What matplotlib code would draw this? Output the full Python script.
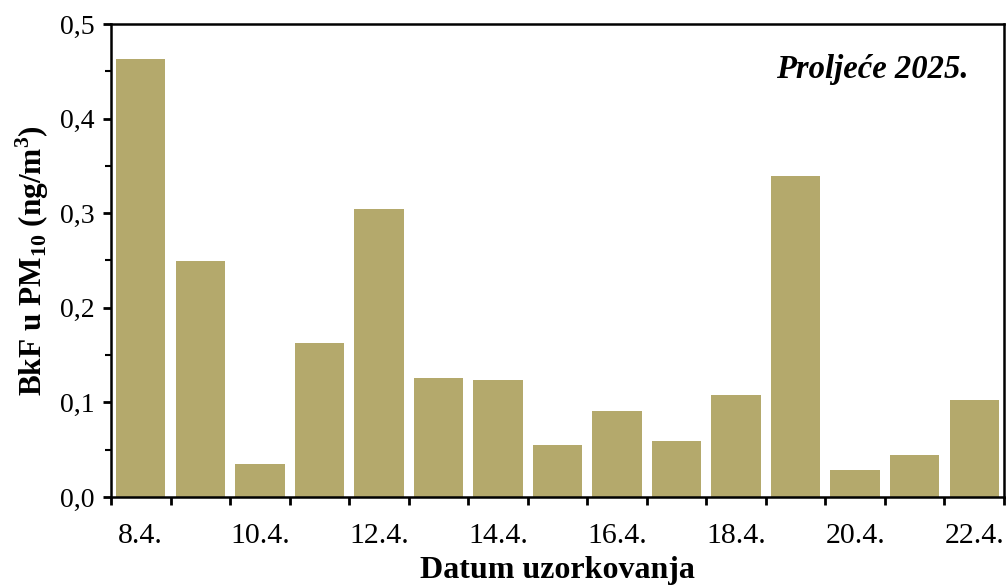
import matplotlib.pyplot as plt
import numpy as np
from matplotlib.ticker import MultipleLocator, FuncFormatter

dates = ["8.4.", "9.4.", "10.4.", "11.4.", "12.4.", "13.4.", "14.4.", "15.4.",
         "16.4.", "17.4.", "18.4.", "19.4.", "20.4.", "21.4.", "22.4."]
bkf = [0.463, 0.249, 0.035, 0.163, 0.304, 0.126, 0.124, 0.055,
       0.091, 0.059, 0.108, 0.339, 0.029, 0.044, 0.103]

plt.rcParams["font.family"] = ["Liberation Serif", "DejaVu Serif"]
plt.rcParams["mathtext.fontset"] = "custom"
plt.rcParams["mathtext.rm"] = "Liberation Serif"
plt.rcParams["mathtext.bf"] = "Liberation Serif:bold"

fig = plt.figure(figsize=(10.07, 5.85), dpi=100)
ax = fig.add_axes([111 / 1007, 1 - 497 / 585, 893 / 1007, 473 / 585])

x = np.arange(len(dates))
ax.bar(x, bkf, width=0.83, color="#b4a96c", edgecolor="none")

ax.set_xlim(-0.5, len(dates) - 0.5)
ax.set_ylim(0, 0.5)

# ticks at category boundaries, labels under every other bar
ax.set_xticks(np.arange(-0.5, len(dates)), minor=False)
ax.set_xticklabels([])
ax.set_xticks(x[::2], minor=True)
ax.set_xticklabels([dates[i] for i in x[::2]], minor=True, fontsize=21.5)
ax.tick_params(axis="x", which="major", direction="out", length=6, width=2)
ax.tick_params(axis="x", which="minor", length=0, pad=19)

ax.yaxis.set_major_locator(MultipleLocator(0.1))
ax.yaxis.set_minor_locator(MultipleLocator(0.05))
ax.yaxis.set_major_formatter(FuncFormatter(lambda v, p: f"{v:.1f}".replace(".", ",")))
ax.tick_params(axis="y", which="major", direction="out", length=6, width=2, labelsize=20, pad=6)
ax.tick_params(axis="y", which="minor", direction="out", length=4, width=1.5)

for s in ax.spines.values():
    s.set_linewidth(1.8)

ax.set_xlabel("Datum uzorkovanja", fontsize=23, fontweight="bold", labelpad=5)
ax.set_ylabel(r"BkF u PM$_{\mathbf{10}}$ (ng/m$^{\mathbf{3}}$)", fontsize=22.5,
              fontweight="bold", labelpad=6)
ax.text(0.96, 0.903, "Proljeće 2025.", transform=ax.transAxes, ha="right", va="center",
        fontsize=23.5, fontweight="bold", fontstyle="italic")

fig.savefig("out.png", dpi=100)
